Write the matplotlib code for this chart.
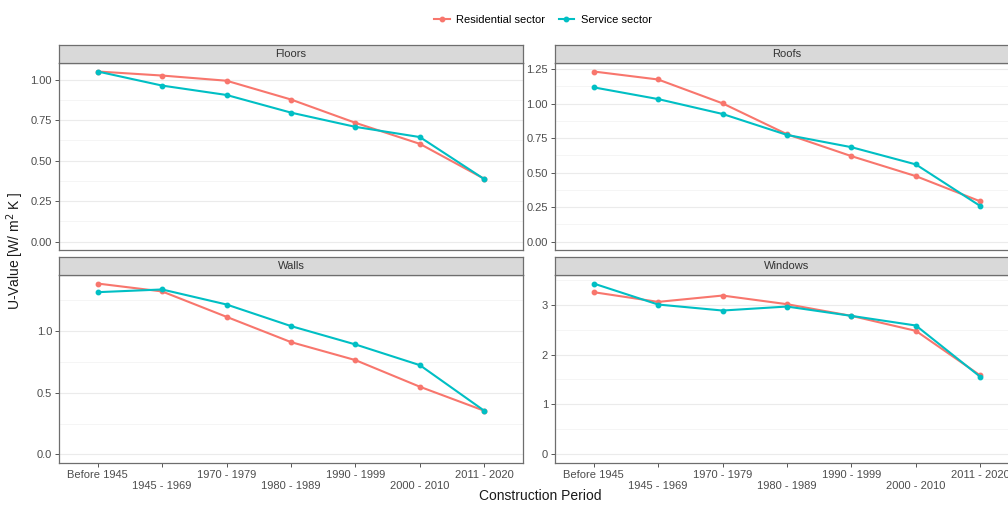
import matplotlib
matplotlib.use("Agg")
import matplotlib.pyplot as plt
from matplotlib.lines import Line2D
from matplotlib.ticker import FixedLocator

plt.rcParams["font.family"] = ["Liberation Sans", "DejaVu Sans"]

# --- data ---
periods = ["Before 1945", "1945 - 1969", "1970 - 1979", "1980 - 1989",
           "1990 - 1999", "2000 - 2010", "2011 - 2020"]

floors_res = [1.05, 1.025, 0.993, 0.877, 0.733, 0.603, 0.387]
floors_srv = [1.05, 0.963, 0.905, 0.796, 0.708, 0.645, 0.385]
roofs_res = [1.233, 1.175, 1.002, 0.778, 0.619, 0.474, 0.291]
roofs_srv = [1.118, 1.033, 0.925, 0.773, 0.684, 0.559, 0.257]
walls_res = [1.386, 1.322, 1.116, 0.911, 0.765, 0.549, 0.354]
walls_srv = [1.316, 1.338, 1.216, 1.041, 0.892, 0.724, 0.354]
windows_res = [3.247, 3.053, 3.18, 3.007, 2.773, 2.473, 1.58]
windows_srv = [3.42, 3.0, 2.88, 2.96, 2.773, 2.58, 1.553]

floors_ticks = [0.0, 0.25, 0.5, 0.75, 1.0]
roofs_ticks = [0.0, 0.25, 0.5, 0.75, 1.0, 1.25]
walls_ticks = [0.0, 0.5, 1.0]
windows_ticks = [0, 1, 2, 3]

RES_C = "#F8766D"
SRV_C = "#00BFC4"
TXT = "#4D4D4D"
BORDER = "#6E6E6E"

W, H = 1008, 505
fig = plt.figure(figsize=(W / 100, H / 100), dpi=100)


def rect(l, t, r, b):
    return [l / W, 1 - b / H, (r - l) / W, (b - t) / H]


panels = [
    ("Floors", floors_res, floors_srv, floors_ticks, "%.2f", (59, 45, 523, 250), False),
    ("Roofs", roofs_res, roofs_srv, roofs_ticks, "%.2f", (555, 45, 1019, 250), False),
    ("Walls", walls_res, walls_srv, walls_ticks, "%.1f", (59, 257, 523, 463), True),
    ("Windows", windows_res, windows_srv, windows_ticks, "%d", (555, 257, 1019, 463), True),
]

x = list(range(len(periods)))
for name, res, srv, ticks, fmt, (l, t, r, b), bottom in panels:
    strip_h = 18
    ax = fig.add_axes(rect(l, t + strip_h, r, b))
    st = fig.add_axes(rect(l, t, r, t + strip_h))
    st.set_facecolor("#D9D9D9")
    st.set_xticks([])
    st.set_yticks([])
    for s in st.spines.values():
        s.set_color(BORDER)
        s.set_linewidth(0.9)
    st.text(0.5, 0.5, name, ha="center", va="center", fontsize=8,
            color="#333333", transform=st.transAxes)

    top = max(max(res), max(srv))
    ax.set_ylim(-0.05 * top, top * 1.05)
    ax.set_xlim(-0.6, len(periods) - 0.4)

    step = ticks[1] - ticks[0]
    minors = [v + step / 2 for v in ticks]
    ax.yaxis.set_major_locator(FixedLocator(ticks))
    ax.yaxis.set_minor_locator(FixedLocator(minors))
    ax.set_yticklabels([fmt % v for v in ticks])
    ax.grid(axis="y", which="major", color="#EBEBEB", lw=0.8, zorder=0)
    ax.grid(axis="y", which="minor", color="#F4F4F4", lw=0.6, zorder=0)
    ax.tick_params(axis="y", which="minor", length=0)
    ax.tick_params(axis="both", which="major", length=3, width=0.7,
                   color="#555555", labelcolor=TXT, labelsize=8, pad=2)
    for s in ax.spines.values():
        s.set_color(BORDER)
        s.set_linewidth(0.9)

    ax.set_xticks(x)
    if bottom:
        ax.set_xticklabels([p if i % 2 == 0 else "\n" + p for i, p in enumerate(periods)],
                           linespacing=1.1)
    else:
        ax.tick_params(axis="x", length=0, labelbottom=False)

    ax.plot(x, res, "-o", color=RES_C, lw=1.5, ms=3.2, zorder=3)
    ax.plot(x, srv, "-o", color=SRV_C, lw=1.5, ms=3.2, zorder=4)

fig.text(15 / W, 1 - 251 / H, "U-Value [W/ m$^2$ K ]", rotation=90,
         ha="center", va="center", fontsize=10, color="#1A1A1A")
fig.text(540 / W, 1 - 496 / H, "Construction Period", ha="center", va="center",
         fontsize=10, color="#1A1A1A")

handles = [Line2D([0], [0], color=RES_C, marker="o", lw=1.5, ms=3.2),
           Line2D([0], [0], color=SRV_C, marker="o", lw=1.5, ms=3.2)]
fig.legend(handles, ["Residential sector", "Service sector"], ncol=2,
           loc="center", bbox_to_anchor=(543 / W, 1 - 20 / H), frameon=False,
           fontsize=8, handlelength=1.4, columnspacing=1.2, handletextpad=0.6)

fig.savefig("out.png", dpi=100)
